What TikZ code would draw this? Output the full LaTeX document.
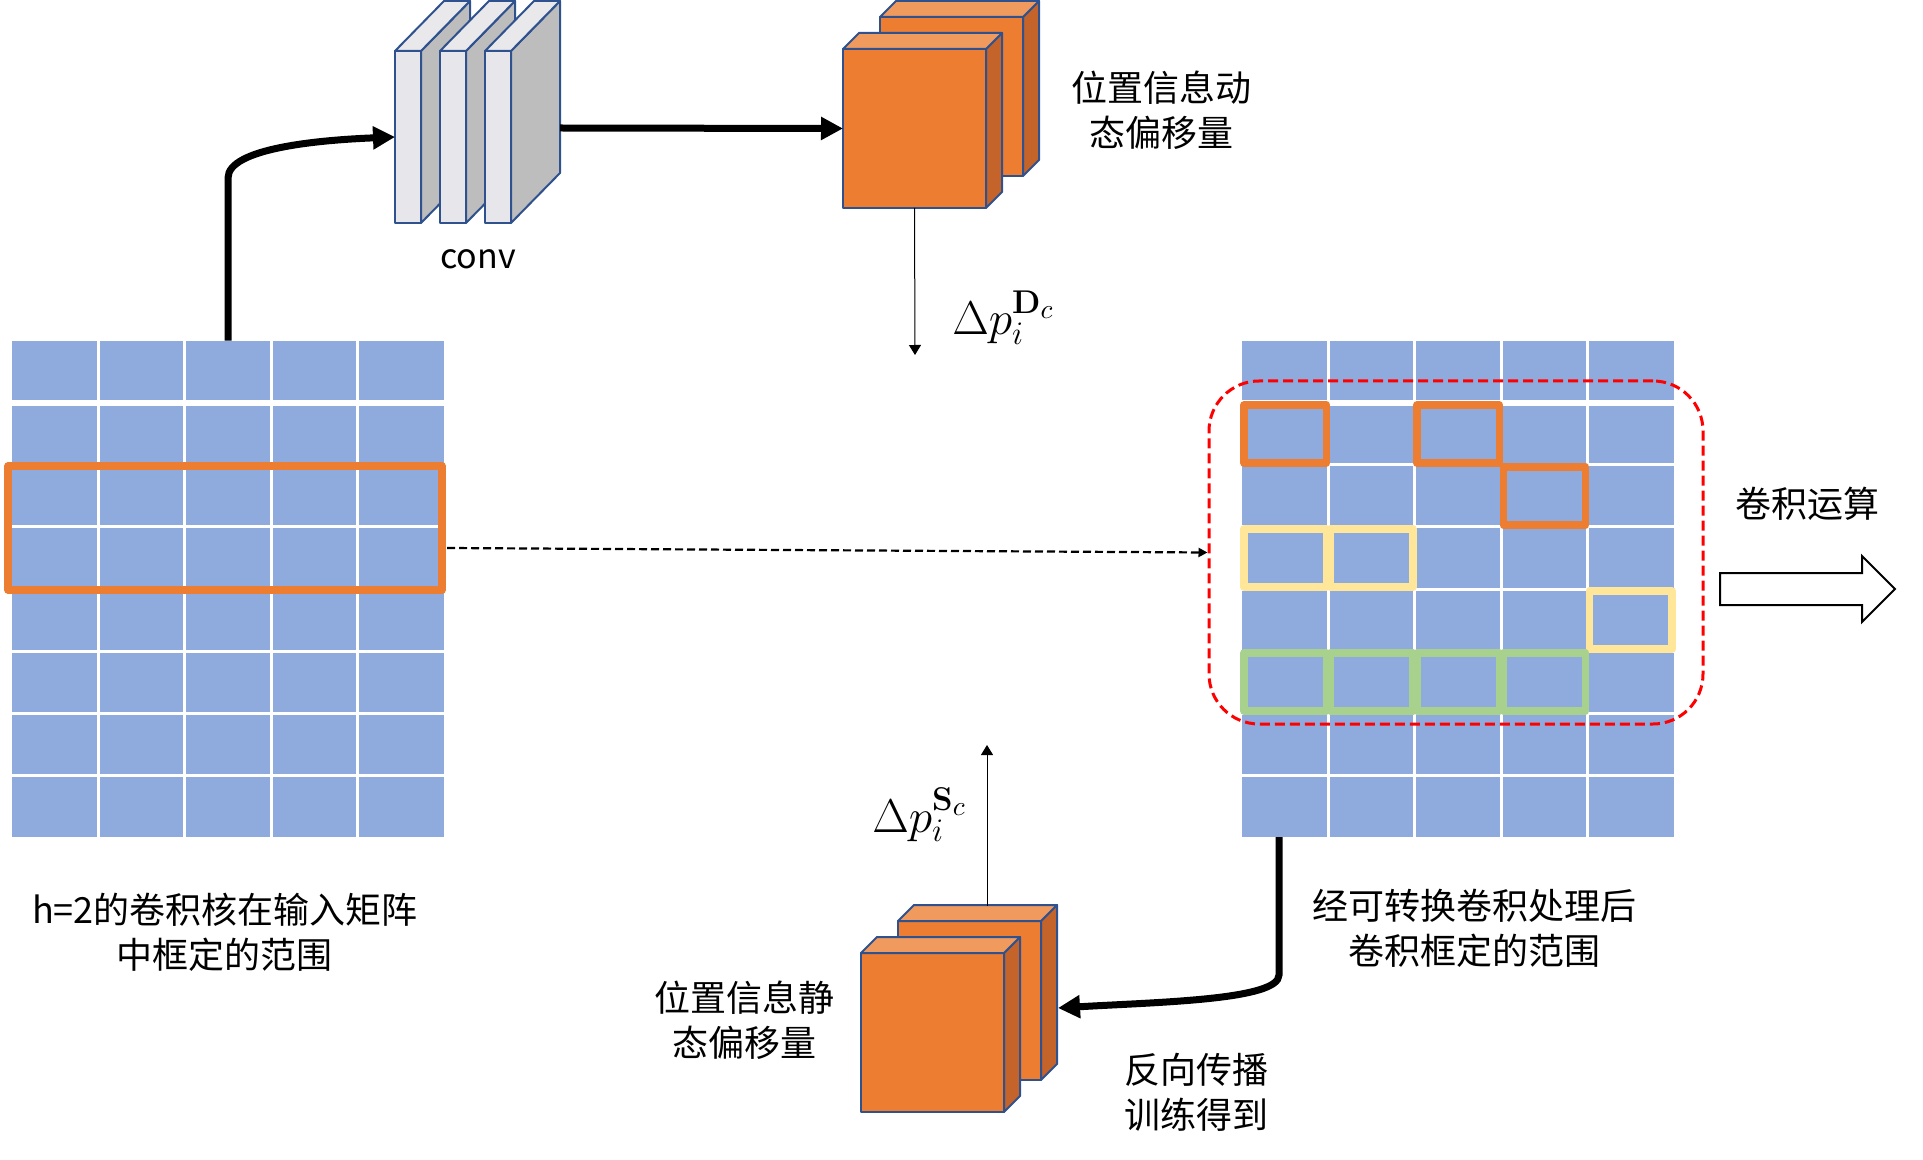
\documentclass[tikz,border=0pt]{standalone}
\usepackage[no-math]{fontspec}
\setmainfont{Noto Sans CJK SC}
\usetikzlibrary{arrows.meta}

\definecolor{cellblue}{HTML}{8FAADC}
\definecolor{boxorange}{HTML}{ED7D31}
\definecolor{boxtop}{HTML}{F19A5E}
\definecolor{boxside}{HTML}{C4632A}
\definecolor{edgeblue}{HTML}{2F528F}
\definecolor{slabfront}{HTML}{E7E6EA}
\definecolor{slabtop}{HTML}{E9E9EC}
\definecolor{slabside}{HTML}{BDBDBD}
\definecolor{hlyellow}{HTML}{FFE699}
\definecolor{hlgreen}{HTML}{A9D18E}

\newcommand{\cellgrid}[1]{%
  \fill[cellblue] (#1,341) rectangle ++(432,496);
  \foreach \k in {1,...,4} \draw[white, line width=1.5pt] (#1+\k*86.4,341) -- ++(0,496);
  \foreach \k in {2,...,7} \draw[white, line width=1.5pt] (#1,341+\k*62) -- ++(432,0);
  \draw[white, line width=3pt] (#1,403) -- ++(432,0);
}
\newcommand{\offsetbox}[3]{%
  \node[facestyle, fill=boxorange, minimum width=71.5pt, minimum height=79.5pt] (#1) at (#2,#3) {};
  \draw[facestyle, fill=boxside] (#1.north east) -- ++(16,-16) -- ++(0,159) -- (#1.south east) -- cycle;
  \draw[facestyle, fill=boxtop] (#1.north west) -- ++(16,-16) -- ++(143,0) -- (#1.north east) -- cycle;
}
\newcommand{\offsetsym}[1]{\scalebox{1.37}{$\Delta p_i^{\mathbf{#1}_c}$}}

\begin{document}
\begin{tikzpicture}[x=0.5pt,y=-0.5pt]
        \tikzstyle{every node}+=[inner sep=0pt]
        \tikzstyle{cjk}=[font=\fontsize{18}{22.5}\selectfont, align=center]
        \tikzstyle{formula}=[anchor=base west, font=\fontsize{17.28}{20}\selectfont]
        \tikzstyle{bigarrow}=[line width=3.5pt, -{Triangle[length=11pt,width=11pt]}]
        \tikzstyle{thinarrow}=[line width=0.5pt, -{Triangle[length=5pt,width=6pt]}]
        \tikzstyle{facestyle}=[draw=edgeblue, line width=1pt, line join=round, outer sep=0pt]
        \tikzstyle{cellframe}=[line width=3.7pt, line join=round]
        \useasboundingbox (0,0) rectangle (1923,1160);

        \cellgrid{12}
        \cellgrid{1242}
        \node[minimum width=216pt, minimum height=248pt] (inmat) at (228,589) {};
        \node[minimum width=216pt, minimum height=248pt] (outmat) at (1458,589) {};
        \node[draw=boxorange, cellframe, minimum width=217pt, minimum height=62pt] (kernel) at (225,528) {};

        \foreach \c/\r in {0/1,2/1,3/2}
          \draw[boxorange, cellframe] (1244+\c*86.4,343+\r*62) rectangle ++(82.4,58);
        \foreach \c/\r in {0/3,1/3,4/4}
          \draw[hlyellow, cellframe] (1244+\c*86.4,343+\r*62) rectangle ++(82.4,58);
        \foreach \c/\r in {0/5,1/5,2/5,3/5}
          \draw[hlgreen, cellframe] (1244+\c*86.4,343+\r*62) rectangle ++(82.4,58);
        \node[draw=red, line width=1.5pt, dash pattern=on 5pt off 2.5pt, rounded corners=25pt,
              minimum width=247pt, minimum height=171.5pt] (region) at (1456,552.5) {};

        \foreach \i in {1,2,3} {
          \node[facestyle, fill=slabfront, minimum width=13pt, minimum height=86pt] (slab\i) at (363+45*\i,137) {};
          \draw[facestyle, fill=slabside] (slab\i.north east) -- ++(49,-50) -- ++(0,172) -- (slab\i.south east) -- cycle;
          \draw[facestyle, fill=slabtop] (slab\i.north west) -- ++(49,-50) -- ++(26,0) -- (slab\i.north east) -- cycle;
        }
        \node[cjk, font=\fontsize{17}{20}\selectfont] (convlabel) at (478,259) {conv};

        \offsetbox{dynback}{951.5}{96.5}
        \offsetbox{dynfront}{914.5}{128.5}
        \offsetbox{statback}{969.5}{1000.5}
        \offsetbox{statfront}{932.5}{1032.5}

        \coordinate (convout) at (560,128);
        \coordinate (dcend) at (915,355);
        \coordinate (scstart) at (987,906);
        \coordinate (scend) at (987,745);
        \coordinate (outbot) at (1279,837);
        \coordinate (sctip) at (1058,1008);
        \coordinate (dashfrom) at (447,548);

        \draw[bigarrow] (inmat.north) -- (228,178) .. controls (228,148) and (320,140) .. (slab1.west);
        \draw[bigarrow] (convout) -- (dynfront.west);
        \draw[bigarrow] (outbot) -- (1279,975) .. controls (1279,1000) and (1160,1002) .. (sctip);
        \draw[thinarrow] (dynfront.south) -- (dcend);
        \draw[thinarrow] (scstart) -- (scend);
        \draw[line width=1.1pt, dash pattern=on 4pt off 2pt, -{Triangle[length=4.5pt,width=4.5pt]}] (dashfrom) -- (region.west);
        \draw[line width=1pt, fill=white] (1720,573) -- (1862,573) -- (1862,556) -- (1895,589)
              -- (1862,622) -- (1862,605) -- (1720,605) -- cycle;

        \node[formula] (dclabel) at (952,335) {\offsetsym{D}};
        \node[formula] (sclabel) at (872,832) {\offsetsym{S}};
        \node[cjk] (dynlabel) at (1161,110.5) {位置信息动\\态偏移量};
        \node[cjk] (statlabel) at (744,1020.5) {位置信息静\\态偏移量};
        \node[cjk] (inlabel) at (225,932.5) {h=2的卷积核在输入矩阵\\中框定的范围};
        \node[cjk] (outlabel) at (1474,928) {经可转换卷积处理后\\卷积框定的范围};
        \node[cjk] (bplabel) at (1196,1092.5) {反向传播\\训练得到};
        \node[cjk] (oplabel) at (1807,504) {卷积运算};
      \end{tikzpicture}
\end{document}
